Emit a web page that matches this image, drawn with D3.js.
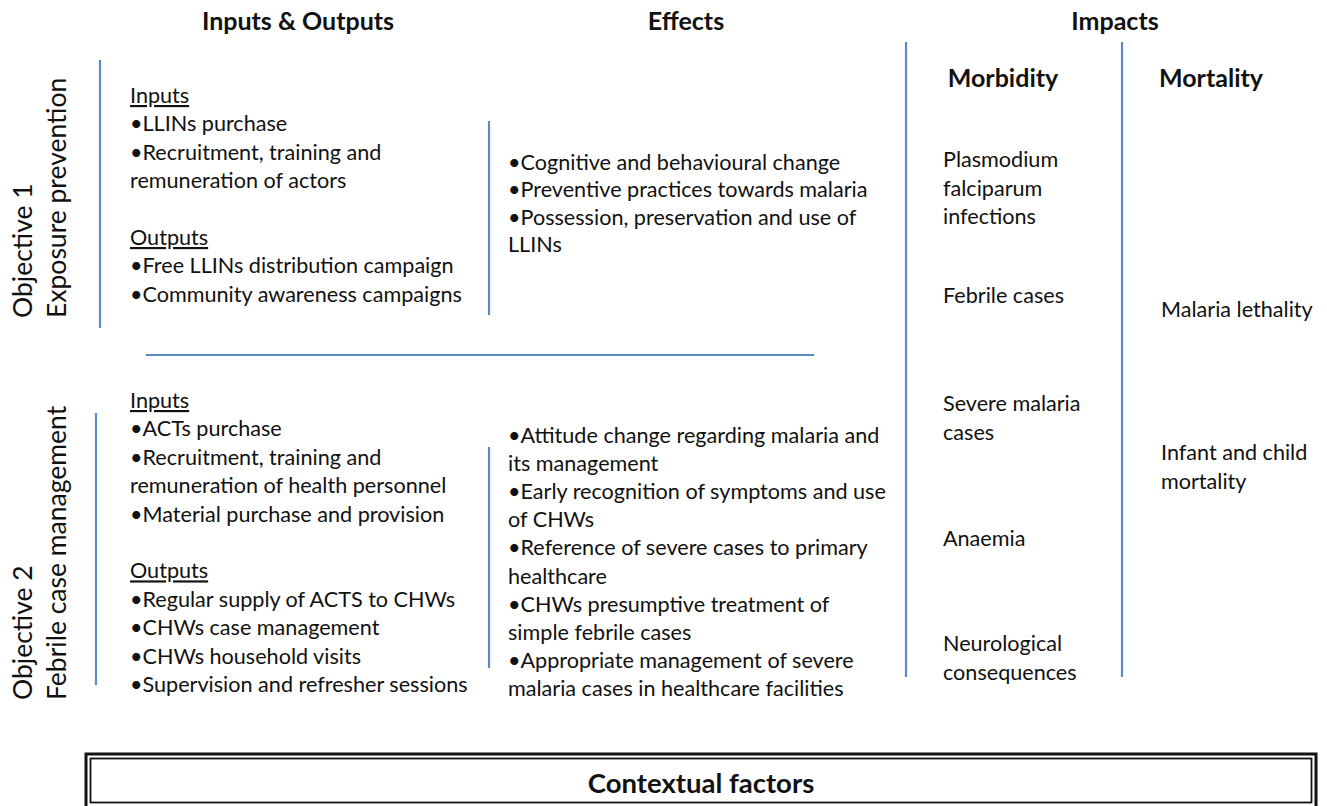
<!DOCTYPE html>
<html>
<head>
<meta charset="utf-8">
<script src="https://cdn.jsdelivr.net/npm/d3@7.9.0/dist/d3.min.js"></script>
<style>
  body { margin: 0; background: #fff; }
  svg { display: block; font-family: Lato, "Open Sans", sans-serif; }
</style>
</head>
<body>
<svg id="framework" width="1327" height="806"></svg>
<script>
// framework content
const columnHeaders = ['Inputs & Outputs', 'Effects', 'Impacts'];
const impactHeaders = ['Morbidity', 'Mortality'];
const objectives = [
  ['Objective 1', 'Exposure prevention'],
  ['Objective 2', 'Febrile case management']
];

// each item is a bullet, split into its wrapped lines
const obj1Inputs = [['LLINs purchase'], ['Recruitment, training and', 'remuneration of actors']];
const obj1Outputs = [['Free LLINs distribution campaign'], ['Community awareness campaigns']];
const obj1Effects = [
  ['Cognitive and behavioural change'],
  ['Preventive practices towards malaria'],
  ['Possession, preservation and use of', 'LLINs']
];

const obj2Inputs = [
  ['ACTs purchase'],
  ['Recruitment, training and', 'remuneration of health personnel'],
  ['Material purchase and provision']
];
const obj2Outputs = [
  ['Regular supply of ACTS to CHWs'],
  ['CHWs case management'],
  ['CHWs household visits'],
  ['Supervision and refresher sessions']
];
const obj2Effects = [
  ['Attitude change regarding malaria and', 'its management'],
  ['Early recognition of symptoms and use', 'of CHWs'],
  ['Reference of severe cases to primary', 'healthcare'],
  ['CHWs presumptive treatment of', 'simple febrile cases'],
  ['Appropriate management of severe', 'malaria cases in healthcare facilities']
];

const morbidityOutcomes = [
  ['Plasmodium', 'falciparum', 'infections'],
  ['Febrile cases'],
  ['Severe malaria', 'cases'],
  ['Anaemia'],
  ['Neurological', 'consequences']
];
const mortalityOutcomes = [['Malaria lethality'], ['Infant and child', 'mortality']];
const contextLabel = 'Contextual factors';

// layout
const svg = d3.select('#framework');
const blue = '#5b8ac4';
const ink = '#111';
const bodySize = 21.6;

svg.append('rect').attr('width', 1327).attr('height', 806).attr('fill', '#fff');

// separator lines
const separators = [
  [100, 60, 100, 328],
  [489, 121, 489, 315],
  [96, 413, 96, 685],
  [489, 447, 489, 668],
  [906, 42, 906, 677],
  [1122, 42, 1122, 677],
  [146, 355, 814, 355]
];
svg.append('g')
  .selectAll('line')
  .data(separators)
  .join('line')
  .attr('x1', (d) => d[0])
  .attr('y1', (d) => d[1])
  .attr('x2', (d) => d[2])
  .attr('y2', (d) => d[3])
  .attr('stroke', blue)
  .attr('stroke-width', 2.2);

// column headers
const headerX = [298, 686, 1115];
svg.append('g')
  .selectAll('text')
  .data(columnHeaders)
  .join('text')
  .attr('x', (d, i) => headerX[i])
  .attr('y', 30)
  .attr('text-anchor', 'middle')
  .attr('font-size', 25)
  .attr('font-weight', 700)
  .attr('fill', ink)
  .text((d) => d);

const impactX = [1003, 1211];
svg.append('g')
  .selectAll('text')
  .data(impactHeaders)
  .join('text')
  .attr('x', (d, i) => impactX[i])
  .attr('y', 86.5)
  .attr('text-anchor', 'middle')
  .attr('font-size', 25)
  .attr('font-weight', 700)
  .attr('fill', ink)
  .text((d) => d);

// rotated objective labels
const objBottom = [318, 700];
objectives.forEach((obj, i) => {
  const g = svg.append('g')
    .attr('transform', `translate(0,${objBottom[i]}) rotate(-90)`);
  g.selectAll('text')
    .data(obj)
    .join('text')
    .attr('x', 0)
    .attr('y', (d, j) => 32 + j * 34)
    .attr('font-size', 26.5)
    .attr('fill', ink)
    .text((d) => d);
});

// turn a list of items into rendered lines
function bulletLines(items) {
  const out = [];
  items.forEach((item) => {
    item.forEach((line, k) => out.push({ text: (k === 0 ? '\u2022' : '') + line }));
  });
  return out;
}

function drawBlock(lines, x, y0, lineHeight) {
  const g = svg.append('g');
  g.selectAll('text')
    .data(lines)
    .join('text')
    .attr('x', x)
    .attr('y', (d, i) => y0 + i * lineHeight)
    .attr('font-size', bodySize)
    .attr('fill', ink)
    .attr('text-decoration', (d) => (d.heading ? 'underline' : null))
    .text((d) => d.text);
}

function inputsOutputs(inputs, outputs) {
  return [{ text: 'Inputs', heading: true }]
    .concat(bulletLines(inputs))
    .concat([{ text: '' }, { text: 'Outputs', heading: true }])
    .concat(bulletLines(outputs));
}

drawBlock(inputsOutputs(obj1Inputs, obj1Outputs), 130, 103, 28.4);
drawBlock(inputsOutputs(obj2Inputs, obj2Outputs), 130, 408, 28.4);
drawBlock(bulletLines(obj1Effects), 508, 170, 27.3);
drawBlock(bulletLines(obj2Effects), 508, 443, 28.1);

// impacts
const morbidityY = [167, 303, 411, 546, 651];
morbidityOutcomes.forEach((item, i) => {
  drawBlock(item.map((t) => ({ text: t })), 943, morbidityY[i], 28.5);
});
const mortalityY = [317, 460];
mortalityOutcomes.forEach((item, i) => {
  drawBlock(item.map((t) => ({ text: t })), 1161, mortalityY[i], 29);
});

// contextual factors box (double border)
svg.append('rect')
  .attr('x', 86).attr('y', 754)
  .attr('width', 1230).attr('height', 60)
  .attr('fill', 'none')
  .attr('stroke', ink)
  .attr('stroke-width', 3);
svg.append('rect')
  .attr('x', 90.5).attr('y', 758.5)
  .attr('width', 1221).attr('height', 44)
  .attr('fill', 'none')
  .attr('stroke', ink)
  .attr('stroke-width', 1.8);
svg.append('text')
  .attr('x', 701)
  .attr('y', 793)
  .attr('text-anchor', 'middle')
  .attr('font-size', 27.5)
  .attr('font-weight', 700)
  .attr('fill', ink)
  .text(contextLabel);
</script>
</body>
</html>
